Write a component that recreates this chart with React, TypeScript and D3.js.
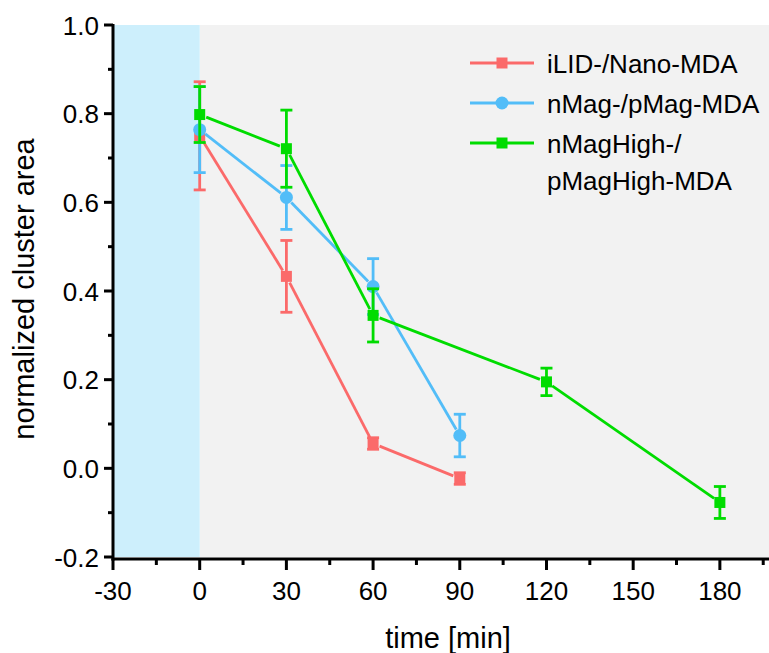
import React from "react";
import * as d3 from "d3";

const seriesNames = ["iLID-/Nano-MDA", "nMag-/pMag-MDA", "nMagHigh-/pMagHigh-MDA"];
const seriesColors = ["#fb6a6a", "#52bdf8", "#00dc00"];
const seriesShapes = ["square", "circle", "square"];

const redTimes = [0, 30, 60, 90];
const redValues = [0.75, 0.433, 0.056, -0.023];
const redErrors = [0.122, 0.081, 0.013, 0.013];

const blueTimes = [0, 30, 60, 90];
const blueValues = [0.764, 0.611, 0.41, 0.074];
const blueErrors = [0.097, 0.072, 0.063, 0.048];

const greenTimes = [0, 30, 60, 120, 180];
const greenValues = [0.798, 0.721, 0.345, 0.195, -0.077];
const greenErrors = [0.063, 0.087, 0.06, 0.031, 0.036];

const xTicks = [-30, 0, 30, 60, 90, 120, 150, 180];
const yTicks = [-0.2, 0.0, 0.2, 0.4, 0.6, 0.8, 1.0];

const W = 769;
const H = 653;
const FONT = "'Liberation Sans', Arial, sans-serif";

export default function App() {
  const x = d3.scaleLinear().domain([-30, 197]).range([113, 769]);
  const y = d3.scaleLinear().domain([-0.2, 1.0]).range([557, 25]);

  const series = [
    { t: redTimes, v: redValues, e: redErrors },
    { t: blueTimes, v: blueValues, e: blueErrors },
    { t: greenTimes, v: greenValues, e: greenErrors },
  ];

  const minorX = d3.range(-15, 197, 30);
  const minorY = d3.range(-0.1, 1.0, 0.2);
  const gap = 7;
  const fmt = (v: number) => d3.format(".1f")(v).replace("\u2212", "-");

  const segs = (s: { t: number[]; v: number[] }) => {
    const out: [number, number, number, number][] = [];
    for (let i = 0; i < s.t.length - 1; i++) {
      const x1 = x(s.t[i]), y1 = y(s.v[i]), x2 = x(s.t[i + 1]), y2 = y(s.v[i + 1]);
      const len = Math.hypot(x2 - x1, y2 - y1);
      const ux = (x2 - x1) / len, uy = (y2 - y1) / len;
      out.push([x1 + ux * gap, y1 + uy * gap, x2 - ux * gap, y2 - uy * gap]);
    }
    return out;
  };

  const marker = (shape: string, cx: number, cy: number, color: string, key: string) =>
    shape === "circle" ? (
      <circle key={key} cx={cx} cy={cy} r={6.5} fill={color} />
    ) : (
      <rect key={key} x={cx - 5.5} y={cy - 5.5} width={11} height={11} fill={color} />
    );

  const axisY = 559;

  return (
    <svg width={W} height={H} style={{ display: "block", position: "absolute", left: 0, top: 0 }}>
      <rect x={0} y={0} width={W} height={H} fill="#ffffff" />
      <rect x={x(0)} y={y(1.0)} width={x(197) - x(0)} height={y(-0.2) - y(1.0)} fill="#f2f2f2" />
      <rect x={x(-30)} y={y(1.0)} width={x(0) - x(-30)} height={y(-0.2) - y(1.0)} fill="#cdeffc" />

      {series.map((s, si) => (
        <g key={si}>
          {segs(s).map((sg, i) => (
            <line key={i} x1={sg[0]} y1={sg[1]} x2={sg[2]} y2={sg[3]} stroke={seriesColors[si]} strokeWidth={2.8} />
          ))}
          {s.t.map((t, i) => {
            const cx = x(t);
            const yt = y(s.v[i] + s.e[i]);
            const yb = y(s.v[i] - s.e[i]);
            return (
              <g key={"e" + i} stroke={seriesColors[si]} strokeWidth={2.8}>
                <line x1={cx} x2={cx} y1={yt} y2={yb} />
                <line x1={cx - 6} x2={cx + 6} y1={yt} y2={yt} />
                <line x1={cx - 6} x2={cx + 6} y1={yb} y2={yb} />
              </g>
            );
          })}
          {s.t.map((t, i) => marker(seriesShapes[si], x(t), y(s.v[i]), seriesColors[si], "m" + i))}
        </g>
      ))}

      {/* axes */}
      <line x1={x(-30)} x2={x(-30)} y1={y(1.0) - 1} y2={axisY + 1.5} stroke="#000" strokeWidth={3} />
      <line x1={x(-30) - 1.5} x2={W} y1={axisY} y2={axisY} stroke="#000" strokeWidth={3} />

      {yTicks.map((t) => (
        <g key={"yt" + t}>
          <line x1={x(-30) - 9} x2={x(-30)} y1={y(t)} y2={y(t)} stroke="#000" strokeWidth={3} />
          <text x={x(-30) - 14} y={y(t) + 9.5} textAnchor="end" fontFamily={FONT} fontSize={26} fill="#000">
            {fmt(t)}
          </text>
        </g>
      ))}
      {minorY.map((t) => (
        <line key={"ym" + t} x1={x(-30) - 5} x2={x(-30)} y1={y(t)} y2={y(t)} stroke="#000" strokeWidth={3} />
      ))}

      {xTicks.map((t) => (
        <g key={"xt" + t}>
          <line x1={x(t)} x2={x(t)} y1={axisY} y2={axisY + 11} stroke="#000" strokeWidth={3} />
          <text x={x(t)} y={600} textAnchor="middle" fontFamily={FONT} fontSize={26} fill="#000">
            {String(t)}
          </text>
        </g>
      ))}
      {minorX.map((t) => (
        <line key={"xm" + t} x1={x(t)} x2={x(t)} y1={axisY} y2={axisY + 6} stroke="#000" strokeWidth={3} />
      ))}

      <text x={448} y={648} textAnchor="middle" fontFamily={FONT} fontSize={29} fill="#000">
        time [min]
      </text>
      <text
        transform={`translate(34, 289) rotate(-90)`}
        textAnchor="middle"
        fontFamily={FONT}
        fontSize={29}
        fill="#000"
      >
        normalized cluster area
      </text>

      {/* legend */}
      {seriesNames.map((name, i) => {
        const ly = [63, 103, 143][i];
        const lines = i === 2 ? ["nMagHigh-/", "pMagHigh-MDA"] : [name];
        return (
          <g key={"lg" + i}>
            <line x1={470} x2={534} y1={ly} y2={ly} stroke={seriesColors[i]} strokeWidth={2.8} />
            {marker(seriesShapes[i], 502, ly, seriesColors[i], "lm" + i)}
            {lines.map((ln, j) => (
              <text key={j} x={547} y={ly + 9.5 + j * 37} fontFamily={FONT} fontSize={26} fill="#000">
                {ln}
              </text>
            ))}
          </g>
        );
      })}
    </svg>
  );
}
